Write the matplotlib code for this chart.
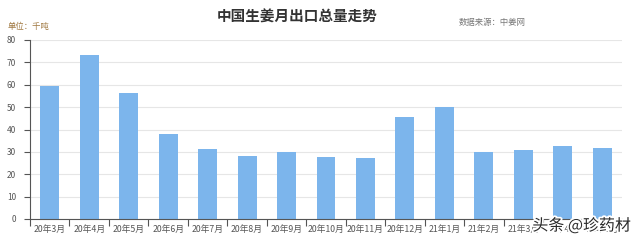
import matplotlib
matplotlib.use('Agg')
from matplotlib import pyplot as plt
import matplotlib.patheffects as pe
import numpy as np

plt.rcParams['font.family'] = ['Noto Sans CJK SC', 'DejaVu Sans']

# 月份与出口量（千吨）
months = ['20年3月', '20年4月', '20年5月', '20年6月', '20年7月', '20年8月', '20年9月',
          '20年10月', '20年11月', '20年12月', '21年1月', '21年2月', '21年3月', '21年4月', '21年5月']
exports = [59.4, 73.4, 56.4, 37.8, 31.2, 28.0, 30.0, 27.6, 27.4, 45.4, 50.2, 30.1, 30.7, 32.5, 31.6]
yticks = [0, 10, 20, 30, 40, 50, 60, 70, 80]

fig = plt.figure(figsize=(6.4, 2.42), dpi=100)
ax = fig.add_axes([30 / 640, 1 - 219 / 242, 592 / 640, 179 / 242])

x = np.arange(len(months))
ax.bar(x, exports, width=0.48, color='#7cb5ec', zorder=2)

ax.set_xlim(-0.5, len(months) - 0.5)
ax.set_ylim(0, 80)
ax.set_yticks(yticks)
ax.yaxis.grid(True, color='#e6e6e6', linewidth=0.8, zorder=0)

# x轴：刻度在类别之间，标签在中间
ax.set_xticks(x)
ax.set_xticklabels(months)
ax.set_xticks(np.arange(-0.5, len(months), 1), minor=True)
ax.tick_params(axis='x', which='major', length=0, labelsize=6.3, colors='#555555', pad=4)
ax.tick_params(axis='x', which='minor', length=5, width=0.8, color='#555555', direction='out')
ax.tick_params(axis='y', length=4, width=0.8, labelsize=6, colors='#555555', pad=6)

for s in ['top', 'right']:
    ax.spines[s].set_visible(False)
ax.spines['left'].set_color('#555555')
ax.spines['bottom'].set_color('#555555')
ax.spines['left'].set_linewidth(0.8)
ax.spines['bottom'].set_linewidth(0.8)

fig.text(297 / 640, 1 - 17 / 242, '中国生姜月出口总量走势', ha='center', va='center',
         fontsize=10.5, fontweight='bold', color='#333333')
fig.text(459 / 640, 1 - 22 / 242, '数据来源：中姜网', ha='left', va='center',
         fontsize=6, color='#777777')
fig.text(8 / 640, 1 - 27 / 242, '单位：千吨', ha='left', va='center',
         fontsize=6, color='#a07840')

# 水印
wm = fig.text(631 / 640, 1 - 226 / 242, '头条 @珍药材', ha='right', va='center',
              fontsize=11.5, color='#2a2a2a')
wm.set_path_effects([pe.withStroke(linewidth=2.5, foreground='white')])

fig.savefig('out.png', dpi=100)
